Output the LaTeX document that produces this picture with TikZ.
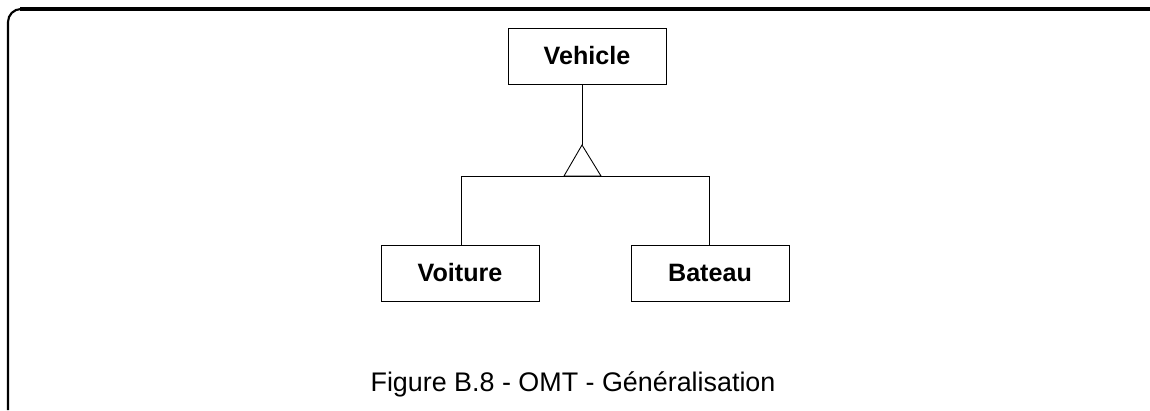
\documentclass[tikz,border=0pt]{standalone}
\usepackage{fontspec}
\setmainfont{Liberation Sans}
\usepackage{tikz}

\tikzset{
	classbox/.style={draw, line width=0.5pt, minimum width=3.16cm, minimum height=1.12cm,
		font=\fontsize{14.3}{17}\selectfont\bfseries},
	link/.style={line width=0.5pt}
}

\begin{document}
\begin{tikzpicture}[x=0.02cm, y=-0.02cm]
		\useasboundingbox (0, 0) rectangle (1150, 410);
		% frame
		\draw[line width=1.8pt] (20, 9) -- (1150, 9);
		\draw[line width=1.2pt] (8, 410) -- (8, 22) arc[start angle=180, end angle=90, radius=0.26cm];
		% classes
		\node[classbox] (vehicle) at (587, 56) {Vehicle};
		\node[classbox] (voiture) at (460, 273) {Voiture};
		\node[classbox] (bateau) at (710, 273) {Bateau};
		% generalisation
		\coordinate (apex) at (582, 145);
		\coordinate (baseL) at (564, 176);
		\coordinate (baseR) at (601, 176);
		\coordinate (barL) at (461, 176);
		\coordinate (barR) at (709, 176);
		\draw[link] (apex |- vehicle.south) -- (apex);
		\draw[link] (apex) -- (baseL) -- (baseR) -- cycle;
		\draw[link] (barL) -- (barR);
		\draw[link] (barL) -- (barL |- voiture.north);
		\draw[link] (barR) -- (barR |- bateau.north);
		% caption
		\node[font=\fontsize{15.3}{18}\selectfont] (caption) at (573, 384) {Figure B.8 - OMT - Généralisation};
	\end{tikzpicture}
\end{document}
